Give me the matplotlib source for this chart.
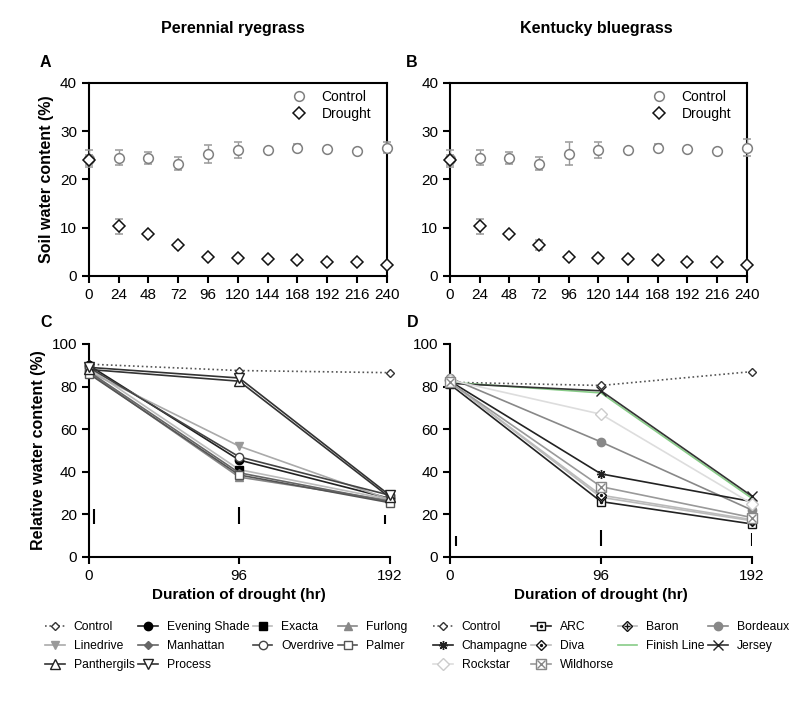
import numpy as np
import matplotlib
matplotlib.use("Agg")
import matplotlib.pyplot as plt
from matplotlib.lines import Line2D

plt.rcParams['font.family'] = ['Liberation Sans', 'DejaVu Sans']

# ---- soil water content (A, B)
hours = [0, 24, 48, 72, 96, 120, 144, 168, 192, 216, 240]
ctrl_a = [24.3, 24.5, 24.4, 23.3, 25.3, 26.1, 26.2, 26.6, 26.3, 25.8, 26.6]
ctrl_a_err = [1.8, 1.6, 1.2, 1.4, 1.8, 1.7, 0.3, 0.8, 0.4, 0.3, 1.2]
dro_a = [24.0, 10.3, 8.6, 6.4, 4.0, 3.7, 3.5, 3.3, 2.9, 2.8, 2.3]
dro_a_err = [1.0, 1.5, 0.4, 0.5, 0.3, 0.3, 0.2, 0.2, 0.2, 0.2, 0.2]
ctrl_b = [24.3, 24.5, 24.4, 23.3, 25.3, 26.1, 26.2, 26.6, 26.3, 25.8, 26.6]
ctrl_b_err = [1.8, 1.6, 1.2, 1.4, 2.4, 1.7, 0.3, 0.8, 0.4, 0.3, 1.7]
dro_b = [24.0, 10.3, 8.6, 6.4, 4.0, 3.7, 3.5, 3.3, 2.9, 2.8, 2.3]
dro_b_err = [1.0, 1.5, 0.4, 1.1, 0.3, 0.3, 0.2, 0.2, 0.2, 0.2, 0.2]

# ---- relative water content (C, D)
days = [0, 96, 192]
pr_names = ["Control", "Evening Shade", "Exacta", "Furlong", "Linedrive",
            "Manhattan", "Overdrive", "Palmer", "Panthergils", "Process"]
pr_vals = [
    [90.5, 87.5, 86.5],
    [90.0, 45.5, 27.5],
    [88.5, 41.0, 27.0],
    [86.5, 37.5, 26.5],
    [87.0, 52.0, 27.0],
    [87.0, 39.5, 26.0],
    [89.0, 47.0, 29.0],
    [86.0, 38.5, 25.5],
    [88.0, 82.5, 28.0],
    [89.0, 84.0, 29.0],
]
kb_names = ["Control", "ARC", "Baron", "Bordeaux", "Champagne", "Diva",
            "Finish Line", "Jersey", "Rockstar", "Wildhorse"]
kb_vals = [
    [82.0, 80.5, 87.0],
    [81.0, 26.0, 15.5],
    [82.0, 28.0, 17.0],
    [84.0, 54.0, 22.0],
    [82.5, 39.0, 26.0],
    [82.0, 29.0, 17.5],
    [82.0, 77.0, 27.5],
    [81.5, 78.0, 28.5],
    [83.0, 67.0, 25.0],
    [82.0, 33.0, 18.5],
]
# LSD bars
pr_lsd_x = [3, 96, 189]
pr_lsd_low = [15.5, 15.5, 15.5]
pr_lsd_high = [22.5, 23.5, 19.8]
kb_lsd_x = [4, 96, 192]
kb_lsd_low = [5.0, 5.0, 5.0]
kb_lsd_high = [10.0, 12.5, 11.2]

W = 'white'
# (line color, marker, face color, edge color, size, overlay marker)
pr_style = [
    ('#555555', 'D', W, '#333333', 4.5, None),
    ('#222222', 'o', '#000000', '#000000', 6.0, None),
    ('#bbbbbb', 's', '#000000', '#000000', 6.0, None),
    ('#888888', '^', '#888888', '#888888', 6.0, None),
    ('#aaaaaa', 'v', '#999999', '#999999', 6.0, None),
    ('#666666', 'D', '#666666', '#666666', 4.5, None),
    ('#444444', 'o', W, '#444444', 6.0, None),
    ('#555555', 's', W, '#555555', 6.0, None),
    ('#333333', '^', W, '#222222', 6.5, None),
    ('#333333', 'v', W, '#222222', 6.5, None),
]
kb_style = [
    ('#555555', 'D', W, '#333333', 4.5, None),
    ('#222222', 's', W, '#111111', 6.0, '.'),
    ('#bbbbbb', 'D', W, '#111111', 5.5, '+'),
    ('#888888', 'o', '#888888', '#888888', 6.0, None),
    ('#222222', (8, 2, 0), '#222222', '#222222', 6.5, None),
    ('#bbbbbb', 'D', W, '#111111', 5.5, '.'),
    ('#88cc88', 'None', W, '#88cc88', 6.0, None),
    ('#333333', 'x', W, '#222222', 7.5, None),
    ('#dddddd', 'D', W, '#cccccc', 6.0, None),
    ('#999999', 's', W, '#888888', 6.5, 'x'),
]

fig = plt.figure(figsize=(8, 7.15), dpi=100)
axA = fig.add_axes([0.111, 0.614, 0.3725, 0.270])
axB = fig.add_axes([0.5625, 0.614, 0.371, 0.270])
axC = fig.add_axes([0.111, 0.221, 0.376, 0.298])
axD = fig.add_axes([0.5625, 0.221, 0.3775, 0.298])

for ax, c, ce, d, de in [(axA, ctrl_a, ctrl_a_err, dro_a, dro_a_err),
                         (axB, ctrl_b, ctrl_b_err, dro_b, dro_b_err)]:
    ax.errorbar(hours, c, yerr=ce, fmt='o', ms=7, mfc='white', mec='#808080',
                mew=1.1, ecolor='#999999', elinewidth=1, capsize=3,
                label='Control', clip_on=False, zorder=3)
    ax.errorbar(hours, d, yerr=de, fmt='D', ms=6.5, mfc='white', mec='#111111',
                mew=1.1, ecolor='#999999', elinewidth=1, capsize=3,
                label='Drought', clip_on=False, zorder=4)
    ax.set_xlim(0, 240)
    ax.set_ylim(0, 40)
    ax.set_xticks(hours)
    ax.set_yticks([0, 10, 20, 30, 40])
    for s in ax.spines.values():
        s.set_linewidth(1.5)
    ax.tick_params(width=1.5, length=5, labelsize=11)
    h, l = ax.get_legend_handles_labels()
    h = [x[0] for x in h]
    ax.legend(h, l, loc='upper right', frameon=False, fontsize=10,
              handletextpad=0.9, labelspacing=0.25, handlelength=1.5,
              bbox_to_anchor=(0.99, 1.03))

axA.set_ylabel('Soil water content (%)', fontsize=11.5, fontweight='bold')


def draw_rwc(ax, names, vals, styles, lx, llo, lhi):
    handles = []
    for i, (n, v, st) in enumerate(zip(names, vals, styles)):
        lc, mk, fc, ec, ms, ov = st
        ls = ':' if n == 'Control' else '-'
        ln, = ax.plot(days, v, color=lc, ls=ls, lw=1.2, marker=mk, ms=ms,
                      mfc=fc, mec=ec, mew=1.0, clip_on=False, zorder=3 + i)
        if ov is not None:
            om, = ax.plot(days, v, ls='None', marker=ov,
                          ms=ms * (0.5 if ov == '.' else 0.8), color=ec,
                          mew=1.0, clip_on=False, zorder=3 + i)
            handles.append((ln, om))
        else:
            handles.append(ln)
    ax.vlines(lx, llo, lhi, color='black', lw=1.5, zorder=20)
    ax.set_xlim(0, 192)
    ax.set_ylim(0, 100)
    ax.set_xticks(days)
    ax.set_yticks([0, 20, 40, 60, 80, 100])
    ax.spines['top'].set_visible(False)
    ax.spines['right'].set_visible(False)
    for s in ax.spines.values():
        s.set_linewidth(1.5)
    ax.tick_params(width=1.5, length=5, labelsize=11)
    ax.set_xlabel('Duration of drought (hr)', fontsize=11, fontweight='bold')
    return handles


hC = draw_rwc(axC, pr_names, pr_vals, pr_style, pr_lsd_x, pr_lsd_low, pr_lsd_high)
hD = draw_rwc(axD, kb_names, kb_vals, kb_style, kb_lsd_x, kb_lsd_low, kb_lsd_high)
axC.set_ylabel('Relative water content (%)', fontsize=11.5, fontweight='bold')

# legend fills column-wise; reorder so it reads row-wise like the original
order = [0, 4, 8, 1, 5, 9, 2, 6, 3, 7]
leg_kw = dict(loc='upper left', ncol=4, frameon=False, fontsize=8.7,
              handlelength=1.6, columnspacing=0.3, handletextpad=0.75,
              labelspacing=0.6)
fig.legend([hC[i] for i in order], [pr_names[i] for i in order],
           bbox_to_anchor=(0.043, 0.147), **leg_kw)
fig.legend([hD[i] for i in order], [kb_names[i] for i in order],
           bbox_to_anchor=(0.528, 0.147), **leg_kw)

fig.text(0.291, 0.96, 'Perennial ryegrass', ha='center', va='center',
         fontsize=11.5, fontweight='bold')
fig.text(0.746, 0.96, 'Kentucky bluegrass', ha='center', va='center',
         fontsize=11.5, fontweight='bold')
for x, y, t in [(0.05, 0.913, 'A'), (0.507, 0.913, 'B'),
                (0.05, 0.549, 'C'), (0.508, 0.549, 'D')]:
    fig.text(x, y, t, ha='left', va='center', fontsize=11.5, fontweight='bold')

fig.savefig('out.png', dpi=100)
